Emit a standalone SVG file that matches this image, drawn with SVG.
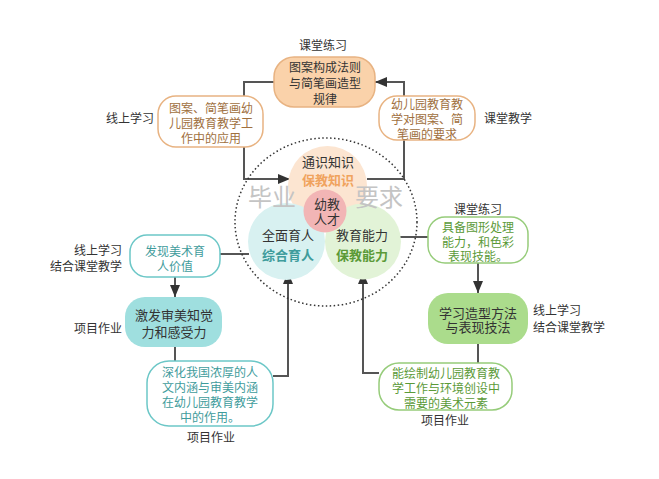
<svg xmlns="http://www.w3.org/2000/svg" width="659" height="479" viewBox="0 0 659 479">
<defs>
<marker id="arr" viewBox="0 0 12 10" refX="12" refY="5" markerWidth="12" markerHeight="10" markerUnits="userSpaceOnUse" orient="auto">
<path d="M0,0 L12,5 L0,10 z" fill="#333"/>
</marker>
<style>
text{font-family:"Noto Sans CJK SC","Noto Sans",sans-serif;font-size:12px;fill:#333;text-anchor:middle}
.lbl{fill:#333}
.st{text-anchor:start}
.en{text-anchor:end}
.f13{font-size:13px}
.b{font-weight:bold}
.con{fill:none;stroke:#555;stroke-width:2}
.brown{fill:#a0703e}
.teal{fill:#3f9c9c}
.green{fill:#5b9a38}
.big{font-size:24px;fill:#c4c4c4}
</style>
</defs>
<rect width="659" height="479" fill="#fff"/>

<g id="connectors">
<path class="con" d="M244,96 V82 H274"/>
<path class="con" d="M404,96 V82 H375" marker-end="url(#arr)"/>
<path class="con" d="M244,147 V179 H290" marker-end="url(#arr)"/>
<path class="con" d="M404,140 V179 H367"/>
<path class="con" d="M220,254 H249"/>
<path class="con" d="M175,277 V297" marker-end="url(#arr)"/>
<path class="con" d="M175,347 V361"/>
<path class="con" d="M273,376 H288 V272" marker-end="url(#arr)"/>
<path class="con" d="M400,237 H428"/>
<path class="con" d="M478,263 V293" marker-end="url(#arr)"/>
<path class="con" d="M478,344 V363"/>
<path class="con" d="M379,373 H363 V272" marker-end="url(#arr)"/>
</g>

<g id="circle-knowledge">
<circle cx="327.5" cy="185.5" r="39.5" fill="#fce5d1"/>
</g>
<g id="circle-people">
<circle cx="286.5" cy="241.5" r="38.5" fill="#d8f1f1"/>
<text x="288" y="240" class="f13">全面育人</text>
<text x="288" y="260" class="f13 b teal">综合育人</text>
</g>
<g id="circle-ability">
<circle cx="363" cy="241.5" r="38" fill="#e2f3d7"/>
<text x="362" y="240" class="f13">教育能力</text>
<text x="362" y="260" class="f13 b green">保教能力</text>
</g>
<g id="knowledge-text">
<text x="328" y="167" class="f13">通识知识</text>
<text x="328" y="185" class="f13 b" fill="#f0a35e" style="fill:#f0a35e">保教知识</text>
</g>
<g id="circle-talent">
<circle cx="325" cy="211" r="21.5" fill="#f2b5b5"/>
<text x="327" y="208.5" class="f13">幼教</text>
<text x="327" y="223.5" class="f13">人才</text>
</g>
<g id="requirement">
<ellipse cx="326" cy="222" rx="91" ry="84" fill="none" stroke="#333" stroke-width="1.5" stroke-dasharray="1.5 2.5"/>
<text x="272" y="206" class="big">毕业</text>
<text x="379" y="206" class="big">要求</text>
</g>

<g id="node-top">
<text x="323" y="50" class="lbl">课堂练习</text>
<rect x="274" y="57" width="101" height="50" rx="20" fill="#fad2aa" stroke="#e8b382" stroke-width="1.5"/>
<text x="325" y="71.5">图案构成法则</text>
<text x="325" y="87.5">与简笔画造型</text>
<text x="325" y="103.5">规律</text>
</g>
<g id="node-apply">
<text x="154" y="122.5" class="en">线上学习</text>
<rect x="158" y="96" width="105" height="51" rx="18" fill="#fff" stroke="#e8b382" stroke-width="1.5"/>
<text x="211" y="112.5" class="brown">图案、简笔画幼</text>
<text x="211" y="127.5" class="brown">儿园教育教学工</text>
<text x="211" y="142.5" class="brown">作中的应用</text>
</g>
<g id="node-require">
<text x="484" y="122.5" class="st">课堂教学</text>
<rect x="379" y="96" width="96" height="44" rx="18" fill="#fff" stroke="#e8b382" stroke-width="1.5"/>
<text x="427" y="108.5" class="brown">幼儿园教育教</text>
<text x="427" y="123.5" class="brown">学对图案、简</text>
<text x="427" y="138.5" class="brown">笔画的要求</text>
</g>

<g id="node-discover">
<text x="122" y="255" class="en">线上学习</text>
<text x="122" y="271" class="en">结合课堂教学</text>
<rect x="130" y="235" width="90" height="42" rx="17" fill="#fff" stroke="#6cc7c7" stroke-width="1.5"/>
<text x="175" y="256" class="teal">发现美术育</text>
<text x="175" y="270.5" class="teal">人价值</text>
</g>
<g id="node-inspire">
<text x="122" y="332.5" class="en">项目作业</text>
<rect x="125" y="297" width="97" height="50" rx="20" fill="#9fdfdf"/>
<text x="174" y="319.6" class="f13">激发审美知觉</text>
<text x="174" y="336.6" class="f13">力和感受力</text>
</g>
<g id="node-deepen">
<rect x="147" y="361" width="126" height="65" rx="22" fill="#fff" stroke="#6cc7c7" stroke-width="1.5"/>
<text x="210" y="376.5" class="teal">深化我国浓厚的人</text>
<text x="210" y="391.5" class="teal">文内涵与审美内涵</text>
<text x="210" y="406.5" class="teal">在幼儿园教育教学</text>
<text x="210" y="421.5" class="teal">中的作用。</text>
<text x="211" y="441.5" class="lbl">项目作业</text>
</g>

<g id="node-graphic">
<text x="478" y="213.5" class="lbl">课堂练习</text>
<rect x="428" y="217" width="100" height="46" rx="17" fill="#fff" stroke="#96cc7a" stroke-width="1.5"/>
<text x="478" y="231.5" class="green">具备图形处理</text>
<text x="478" y="246.5" class="green">能力，和色彩</text>
<text x="478" y="260.5" class="green">表现技能。</text>
</g>
<g id="node-method">
<text x="533" y="314.5" class="st">线上学习</text>
<text x="533" y="331.5" class="st">结合课堂教学</text>
<rect x="428" y="293" width="100" height="51" rx="20" fill="#abdc8c"/>
<text x="478" y="317.5" class="f13">学习造型方法</text>
<text x="478" y="332" class="f13">与表现技法</text>
</g>
<g id="node-draw">
<rect x="379" y="363" width="133" height="47" rx="20" fill="#fff" stroke="#96cc7a" stroke-width="1.5"/>
<text x="446" y="377.5" class="green">能绘制幼儿园教育教</text>
<text x="446" y="392.5" class="green">学工作与环境创设中</text>
<text x="446" y="407.5" class="green">需要的美术元素</text>
<text x="445" y="424.5" class="lbl">项目作业</text>
</g>
</svg>
